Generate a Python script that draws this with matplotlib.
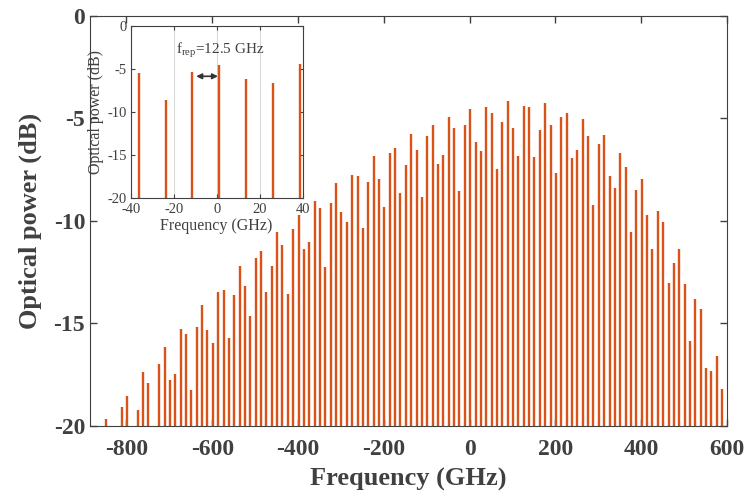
import matplotlib
matplotlib.use('Agg')
import matplotlib.pyplot as plt
import numpy as np

plt.rcParams['font.family'] = ['Liberation Serif', 'DejaVu Serif']
plt.rcParams['axes.unicode_minus'] = False
plt.rcParams['mathtext.fontset'] = 'custom'
plt.rcParams['mathtext.rm'] = 'Liberation Serif'
plt.rcParams['mathtext.it'] = 'Liberation Serif:italic'

# comb lines, 12.5 GHz spacing
f_rep = 12.5
freqs = 1.25 + f_rep * np.arange(-68, 48)
power = [-19.68, np.nan, np.nan, -19.05, -18.53, np.nan, -19.23, -17.39, -17.88, np.nan,
         -17.00, -16.17, -17.75, -17.44, -15.29, -15.52, -18.22, -15.17, -14.08, -15.33,
         -15.93, -13.45, -13.35, -15.73, -13.59, -12.20, -13.15, -14.63, -11.80, -11.46,
         -13.47, -12.21, -10.53, -11.15, -13.54, -10.37, -9.72, -11.39, -11.05, -9.03,
         -9.39, -12.27, -9.13, -8.17, -9.55, -10.07, -7.77, -7.81, -10.33, -8.11,
         -6.85, -7.94, -9.33, -6.68, -6.46, -8.64, -7.29, -5.77, -6.56, -8.84,
         -5.86, -5.34, -7.21, -6.77, -4.94, -5.46, -8.55, -5.33, -4.56, -6.14,
         -6.58, -4.46, -4.73, -7.46, -5.20, -4.16, -5.46, -6.84, -4.40, -4.43,
         -6.89, -5.56, -4.27, -5.34, -7.67, -4.95, -4.76, -6.92, -6.55, -5.05,
         -5.88, -9.24, -6.24, -5.81, -7.80, -8.40, -6.68, -7.38, -10.55, -8.51,
         -7.94, -9.72, -11.39, -9.51, -10.03, -13.03, -12.07, -11.39, -13.07, -15.85,
         -13.81, -14.29, -17.15, -17.33, -16.60, -18.19]
power = np.array(power)

xticks_main = [-800, -600, -400, -200, 0, 200, 400, 600]
yticks_main = [0, -5, -10, -15, -20]
xticks_inset = [-40, -20, 0, 20, 40]

bar_color = '#D95319'
ax_color = '#404040'

fig = plt.figure(figsize=(7.47, 4.96), dpi=100)

# main axes
ax = fig.add_axes([0.1205, 0.1411, 0.8527, 0.8270])
ok = ~np.isnan(power)
ax.vlines(freqs[ok], -20, power[ok], color=bar_color, lw=1.7)
ax.set_xlim(-885, 600)
ax.set_ylim(-20, 0)
ax.set_xticks(xticks_main)
ax.set_yticks(yticks_main)
ax.tick_params(direction='in', length=5, top=True, right=True, colors=ax_color,
               labelsize=17, width=1)
ax.tick_params(axis='x', pad=9)
for lab in ax.get_xticklabels() + ax.get_yticklabels():
    lab.set_fontweight('bold')
for s in ax.spines.values():
    s.set_color(ax_color)
ax.set_xlabel('Frequency (GHz)', fontsize=19, fontweight='bold', color=ax_color, labelpad=6)
ax.set_ylabel('Optical power (dB)', fontsize=19, fontweight='bold', color=ax_color, labelpad=8)

# inset zoom around the centre
ins = fig.add_axes([0.175, 0.600, 0.230, 0.348])
m = ok & (freqs >= -40) & (freqs <= 40)
ins.vlines(freqs[m], -20, power[m], color=bar_color, lw=1.7)
ins.set_xlim(-40, 40)
ins.set_ylim(-20, 0)
ins.set_xticks(xticks_inset)
ins.set_yticks(yticks_main)
ins.grid(axis='x', color='#d9d9d9', lw=0.8)
ins.set_axisbelow(True)
ins.tick_params(direction='in', length=3, top=True, right=True, colors=ax_color,
                labelsize=10.5, pad=3)
for s in ins.spines.values():
    s.set_color(ax_color)
ins.set_xlabel('Frequency (GHz)', fontsize=11.5, color=ax_color, labelpad=2)
ins.set_ylabel('Optical power (dB)', fontsize=11.5, color=ax_color, labelpad=2)
ins.text(-18.9, -3.2, r'f$_{\mathrm{rep}}$=12.5 GHz', fontsize=11, color=ax_color)
ins.annotate('', xy=(0.6, -5.85), xytext=(-9.5, -5.85),
             arrowprops=dict(arrowstyle='<|-|>', color='#333333', lw=1.2,
                             mutation_scale=8, shrinkA=0, shrinkB=0))

fig.savefig('out.png', dpi=100)
plt.close()
